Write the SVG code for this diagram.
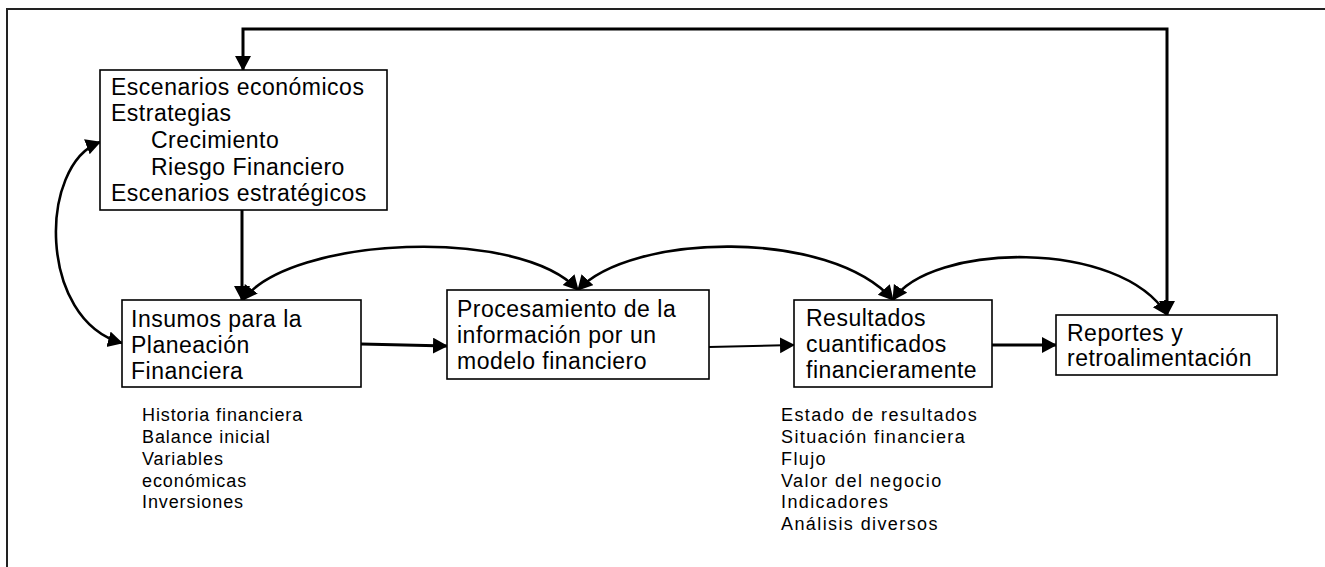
<svg xmlns="http://www.w3.org/2000/svg" width="1325" height="567" viewBox="0 0 1325 567">
  <style>
    .box { fill: #ffffff; stroke: #000000; stroke-width: 1.6; }
    .t { font-family: "Liberation Sans", Arial, sans-serif; font-size: 23px; letter-spacing: 0.5px; fill: #000000; }
    .l { font-family: "Liberation Sans", Arial, sans-serif; font-size: 18px; letter-spacing: 1.4px; fill: #000000; }
    .ll { letter-spacing: 0.9px; }
    .c { fill: none; stroke: #000000; stroke-width: 3; }
    .cc { fill: none; stroke: #000000; stroke-width: 2.6; }
    .thin { fill: none; stroke: #000000; stroke-width: 2; }
  </style>
  <defs>
    <marker id="ah" markerUnits="userSpaceOnUse" markerWidth="18" markerHeight="18" refX="14" refY="8" orient="auto-start-reverse">
      <path d="M0,0 L15,8 L0,16 Z" fill="#000000"/>
    </marker>
  </defs>
  <rect x="0" y="0" width="1325" height="567" fill="#ffffff"/>
  <path d="M7,567 V9 H1325" fill="none" stroke="#222222" stroke-width="2"/>

  <g id="connectors">
    <path class="c" d="M1167,315 V29 H243 V70" marker-start="url(#ah)" marker-end="url(#ah)"/>
    <path class="c" d="M242,210 V300" marker-end="url(#ah)"/>
    <path class="cc" d="M100,142 C38,165 38,320 122,343" marker-start="url(#ah)" marker-end="url(#ah)"/>
    <path class="cc" d="M243,300 C290,236 520,226 578,290" marker-start="url(#ah)" marker-end="url(#ah)"/>
    <path class="cc" d="M578,290 C630,233 830,228 893,300" marker-start="url(#ah)" marker-end="url(#ah)"/>
    <path class="cc" d="M893,300 C930,243 1120,238 1167,315" marker-start="url(#ah)" marker-end="url(#ah)"/>
    <path class="c" d="M361,344 L447,346" marker-end="url(#ah)"/>
    <path class="thin" d="M709,347 L794,345" marker-end="url(#ah)"/>
    <path class="c" d="M992,345 L1056,345" marker-end="url(#ah)"/>
  </g>

  <g id="escenarios">
    <rect class="box" x="100" y="70" width="287" height="140"/>
    <text class="t" x="111" y="95">Escenarios económicos</text>
    <text class="t" x="111" y="121">Estrategias</text>
    <text class="t" x="151" y="148">Crecimiento</text>
    <text class="t" x="151" y="175">Riesgo Financiero</text>
    <text class="t" x="111" y="201">Escenarios estratégicos</text>
  </g>

  <g id="insumos">
    <rect class="box" x="122" y="300" width="239" height="87"/>
    <text class="t" x="131" y="327">Insumos para la</text>
    <text class="t" x="131" y="353">Planeación</text>
    <text class="t" x="131" y="379">Financiera</text>
  </g>

  <g id="procesamiento">
    <rect class="box" x="447" y="290" width="262" height="89"/>
    <text class="t" x="457" y="317">Procesamiento de la</text>
    <text class="t" x="457" y="343">información por un</text>
    <text class="t" x="457" y="369">modelo financiero</text>
  </g>

  <g id="resultados">
    <rect class="box" x="794" y="300" width="198" height="87"/>
    <text class="t" x="806" y="326">Resultados</text>
    <text class="t" x="806" y="352">cuantificados</text>
    <text class="t" x="806" y="378">financieramente</text>
  </g>

  <g id="reportes">
    <rect class="box" x="1056" y="315" width="221" height="60"/>
    <text class="t" x="1067" y="341">Reportes y</text>
    <text class="t" x="1067" y="366">retroalimentación</text>
  </g>

  <g id="insumos-lista">
    <text class="l ll" x="142" y="421">Historia financiera</text>
    <text class="l ll" x="142" y="443">Balance inicial</text>
    <text class="l ll" x="142" y="465">Variables</text>
    <text class="l ll" x="142" y="487">económicas</text>
    <text class="l ll" x="142" y="508">Inversiones</text>
  </g>

  <g id="resultados-lista">
    <text class="l" x="781" y="421">Estado de resultados</text>
    <text class="l" x="781" y="443">Situación financiera</text>
    <text class="l" x="781" y="465">Flujo</text>
    <text class="l" x="781" y="487">Valor del negocio</text>
    <text class="l" x="781" y="508">Indicadores</text>
    <text class="l" x="781" y="530">Análisis diversos</text>
  </g>
</svg>
